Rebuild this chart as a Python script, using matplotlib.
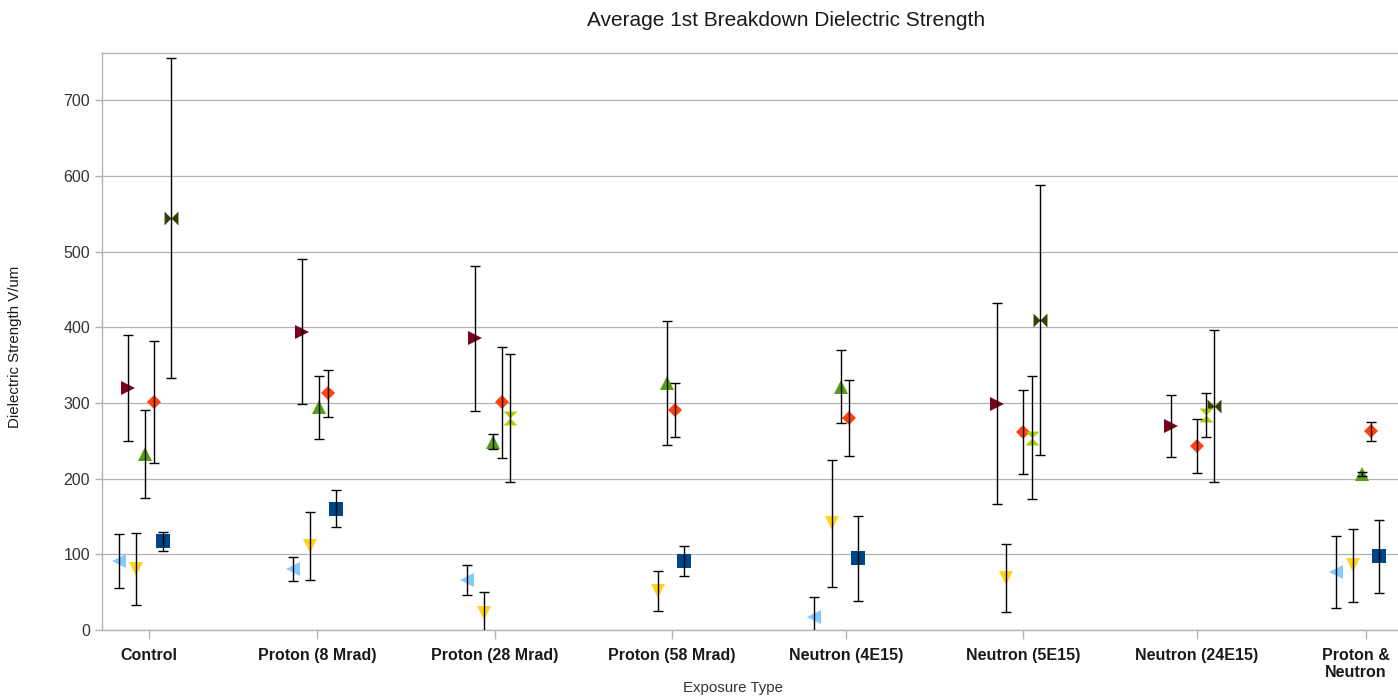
import numpy as np
import matplotlib.pyplot as plt
from matplotlib.path import Path

plt.rcParams['font.family'] = ['Liberation Sans', 'DejaVu Sans']

nan = np.nan

categories = ['Control', 'Proton (8 Mrad)', 'Proton (28 Mrad)', 'Proton (58 Mrad)',
              'Neutron (4E15)', 'Neutron (5E15)', 'Neutron (24E15)', 'Proton &\nNeutron']

# mean dielectric strength (V/um) and error, one list per sample series
s1_mean = [117, 160, nan, 91, 94.5, nan, nan, 97.5]
s1_err = [13, 24.5, nan, 20, 56, nan, nan, 48.5]
s2_mean = [301.5, 312.5, 301, 290.5, 280.5, 262, 243, 262.5]
s2_err = [80.5, 31, 73.5, 36, 50, 55.5, 35.5, 12.5]
s3_mean = [80.5, 111, 22, 52, 141, 68.5, nan, 85.5]
s3_err = [48, 44.5, 28, 26.5, 84, 44.5, nan, 48]
s4_mean = [232.5, 294, 249, 326.5, 321.5, nan, nan, 206]
s4_err = [58, 41, 10, 81.5, 48, nan, nan, 3]
s5_mean = [319.5, 394, 385.5, nan, nan, 299, 269.5, nan]
s5_err = [70, 96, 96, nan, nan, 133, 41, nan]
s6_mean = [91.5, 81, 66, nan, 17.5, nan, nan, 76.5]
s6_err = [36, 16, 20, nan, 26, nan, nan, 48]
s7_mean = [544, nan, nan, nan, nan, 409.5, 296, nan]
s7_err = [211.5, nan, nan, nan, nan, 178, 100.5, nan]
s8_mean = [nan, nan, 280, nan, nan, 254, 284, nan]
s8_err = [nan, nan, 85, nan, nan, 81.5, 28.5, nan]

# LibreOffice style symbols
bowtie = Path([(-1, 1), (1, -1), (1, 1), (-1, -1), (-1, 1)],
              [Path.MOVETO, Path.LINETO, Path.LINETO, Path.LINETO, Path.CLOSEPOLY])
hourglass = Path([(-1, 1), (1, 1), (-1, -1), (1, -1), (-1, 1)],
                 [Path.MOVETO, Path.LINETO, Path.LINETO, Path.LINETO, Path.CLOSEPOLY])

series = [
    (s1_mean, s1_err, 's', '#004586', 0.10, 9.8),
    (s2_mean, s2_err, 'D', '#ff420e', 0.05, 7.2),
    (s3_mean, s3_err, 'v', '#ffd320', -0.05, 10.5),
    (s4_mean, s4_err, '^', '#579d1c', 0.0, 10.5),
    (s5_mean, s5_err, '>', '#7e0021', -0.10, 10.5),
    (s6_mean, s6_err, '<', '#83caff', -0.15, 10.5),
    (s7_mean, s7_err, bowtie, '#314004', 0.15, 10),
    (s8_mean, s8_err, hourglass, '#aecf00', 0.10, 10),
]

W, H = 1398, 697
fig = plt.figure(figsize=(W / 100, H / 100), dpi=100)
ax = fig.add_axes([101.7 / W, (H - 630) / H, (1405.5 - 101.7) / W, (630 - 53.3) / H])

base = np.arange(1, len(categories) + 1)
for mean, err, mk, col, off, ms in series:
    x = base + off
    ax.plot(x, mean, linestyle='none', marker=mk, ms=ms, color=col,
            markeredgewidth=0, zorder=3)
    ax.errorbar(x, mean, yerr=err, fmt='none', ecolor='black', elinewidth=1.0,
                capsize=3.3, capthick=1.0, zorder=4)

ax.set_xlim(0.75, 8.25)
ax.set_ylim(0, 762)
ax.set_yticks(np.arange(0, 800, 100))

# category labels sit a little off the data positions
label_shift = [0.02, -0.01, 0.01, 0.03, 0.03, 0.05, 0.05, 0.02]
tick_x = base + np.array(label_shift)
ax.set_xticks(tick_x)
# last label is drawn by hand, pulled left so it stays inside the picture
ax.set_xticklabels(categories[:-1] + [''], fontweight='bold', fontsize=11.5,
                   color='#1a1a1a')
ax.annotate(categories[-1], xy=(tick_x[-1], 0), xycoords=('data', 'axes fraction'),
            xytext=(-7.2, -13), textcoords='offset points', ha='center', va='top',
            fontweight='bold', fontsize=11.5, color='#1a1a1a', linespacing=1.2,
            annotation_clip=False)
for lab in ax.get_yticklabels():
    lab.set_fontsize(11.5)
    lab.set_color('#333333')

ax.tick_params(axis='x', length=6.5, width=1, color='#b3b3b3', pad=6.5)
ax.tick_params(axis='y', length=5, width=1, color='#b3b3b3', pad=3.5)

ax.grid(True, axis='y', color='#b3b3b3', lw=0.9)
ax.set_axisbelow(True)
for side in ['left', 'bottom', 'top']:
    ax.spines[side].set_color('#b3b3b3')
    ax.spines[side].set_linewidth(1)
ax.spines['right'].set_visible(False)

fig.text(786 / W, 1 - 20 / H, 'Average 1st Breakdown Dielectric Strength',
         ha='center', va='center', fontsize=15, color='#1a1a1a')
fig.text(15 / W, 1 - 347 / H, 'Dielectric Strength V/um', rotation=90,
         ha='center', va='center', fontsize=10.8, color='#1a1a1a')
fig.text(733 / W, 1 - 688 / H, 'Exposure Type',
         ha='center', va='center', fontsize=10.8, color='#333333')

fig.savefig('out.png', dpi=100)
